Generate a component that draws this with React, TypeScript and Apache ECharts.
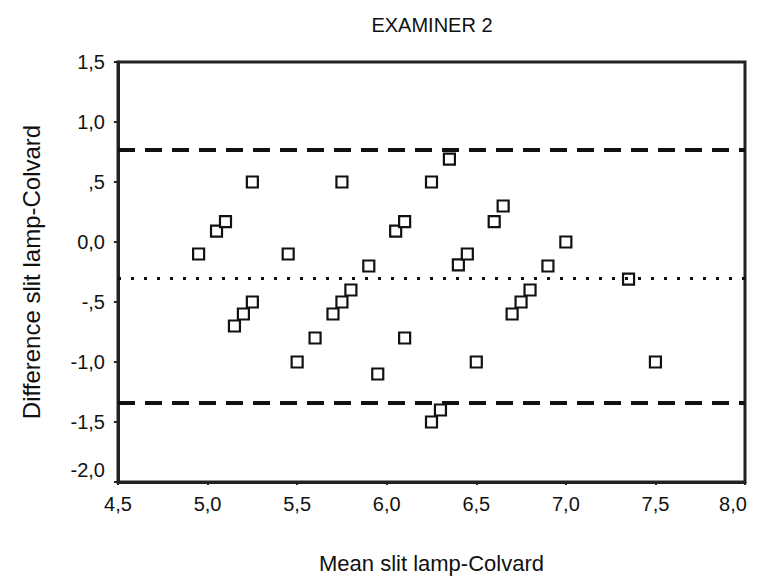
import React, { useEffect, useRef } from 'react';
import * as echarts from 'echarts';

const chartTitle = 'EXAMINER 2';
const xAxisName = 'Mean slit lamp-Colvard';
const yAxisName = 'Difference slit lamp-Colvard';

// Bland-Altman points: mean (x) and difference (y)
const meanValues = [
  4.95, 5.05, 5.1, 5.25, 5.15, 5.2, 5.25, 5.45, 5.5, 5.6, 5.7, 5.75, 5.8, 5.75,
  5.9, 5.95, 6.05, 6.1, 6.1, 6.25, 6.35, 6.25, 6.3, 6.4, 6.45, 6.5, 6.6, 6.65,
  6.7, 6.75, 6.8, 6.9, 7.0, 7.35, 7.5,
];
const diffValues = [
  -0.1, 0.09, 0.17, 0.5, -0.7, -0.6, -0.5, -0.1, -1.0, -0.8, -0.6, -0.5, -0.4, 0.5,
  -0.2, -1.1, 0.09, 0.17, -0.8, 0.5, 0.69, -1.5, -1.4, -0.19, -0.1, -1.0, 0.17, 0.3,
  -0.6, -0.5, -0.4, -0.2, 0.0, -0.31, -1.0,
];

const upperLimit = 0.77;
const meanDifference = -0.3;
const lowerLimit = -1.34;

const xTickLabels = ['4,5', '5,0', '5,5', '6,0', '6,5', '7,0', '7,5', '8,0'];
const yTickLabels = ['-2,0', '-1,5', '-1,0', '-,5', '0,0', ',5', '1,0', '1,5'];

const X_MIN = 4.5;
const X_MAX = 8.0;
const Y_MIN = -2.0;
const Y_MAX = 1.5;
const STEP = 0.5;

const FONT = '"Liberation Sans", Arial, sans-serif';
const INK = '#111';

export default function App() {
  const ref = useRef<HTMLDivElement>(null);

  useEffect(() => {
    if (!ref.current) return;
    const chart = echarts.init(ref.current, undefined, { renderer: 'svg' });
    const points = meanValues.map((m, i) => [m, diffValues[i]]);

    chart.setOption({
      animation: false,
      backgroundColor: '#fff',
      title: {
        text: chartTitle,
        left: 427,
        top: 10,
        textAlign: 'center',
        textStyle: { fontFamily: FONT, fontSize: 20, fontWeight: 'normal', color: INK },
      },
      grid: {
        left: 118,
        right: 17,
        top: 62,
        bottom: 103,
        show: true,
        borderColor: '#222',
        borderWidth: 3,
        backgroundColor: '#fff',
      },
      xAxis: {
        type: 'value',
        min: X_MIN,
        max: X_MAX,
        interval: STEP,
        name: xAxisName,
        nameLocation: 'middle',
        nameGap: 70,
        nameTextStyle: { fontFamily: FONT, fontSize: 22, color: INK },
        axisLine: { show: true, onZero: false, lineStyle: { color: '#222', width: 3 } },
        axisTick: { show: true, length: 3, lineStyle: { color: '#222', width: 2 } },
        splitLine: { show: false },
        axisLabel: {
          margin: 12,
          fontFamily: FONT,
          fontSize: 20,
          color: INK,
          formatter: (v: number) => {
            const i = Math.round((v - X_MIN) / STEP);
            const s = xTickLabels[i] ?? '';
            return i === xTickLabels.length - 1 ? `{e|${s}}` : s;
          },
          rich: {
            e: { fontFamily: FONT, fontSize: 20, color: INK, padding: [0, 24, 0, 0] },
          },
        },
      },
      yAxis: {
        type: 'value',
        min: Y_MIN,
        max: Y_MAX,
        interval: STEP,
        name: yAxisName,
        nameLocation: 'middle',
        nameGap: 75,
        nameTextStyle: { fontFamily: FONT, fontSize: 24, color: INK },
        axisLine: { show: true, onZero: false, lineStyle: { color: '#222', width: 3 } },
        axisTick: { show: true, length: 4, lineStyle: { color: '#222', width: 2 } },
        splitLine: { show: false },
        axisLabel: {
          margin: 13,
          fontFamily: FONT,
          fontSize: 20,
          color: INK,
          formatter: (v: number) => {
            const i = Math.round((v - Y_MIN) / STEP);
            const s = yTickLabels[i] ?? '';
            return i === 0 ? `{b|${s}}` : s;
          },
          rich: {
            b: { fontFamily: FONT, fontSize: 20, color: INK, padding: [0, 0, 24, 0] },
          },
        },
      },
      series: [
        {
          type: 'scatter',
          data: [],
          z: 1,
          silent: true,
          markLine: {
            silent: true,
            symbol: ['none', 'none'],
            label: { show: false },
            data: [
              { yAxis: upperLimit, lineStyle: { type: [17, 10], width: 4, color: INK } },
              { yAxis: meanDifference, lineStyle: { type: [3, 10], width: 3, color: INK } },
              { yAxis: lowerLimit, lineStyle: { type: [17, 10], width: 4, color: INK } },
            ],
          },
        },
        {
          type: 'scatter',
          data: points,
          z: 3,
          symbol: 'rect',
          symbolSize: 11,
          itemStyle: { color: '#fff', borderColor: INK, borderWidth: 2.2, opacity: 1 },
        },
      ],
    });

    return () => chart.dispose();
  }, []);

  return (
    <div
      ref={ref}
      style={{ position: 'fixed', left: 0, top: 0, width: 762, height: 585, background: '#fff' }}
    />
  );
}
